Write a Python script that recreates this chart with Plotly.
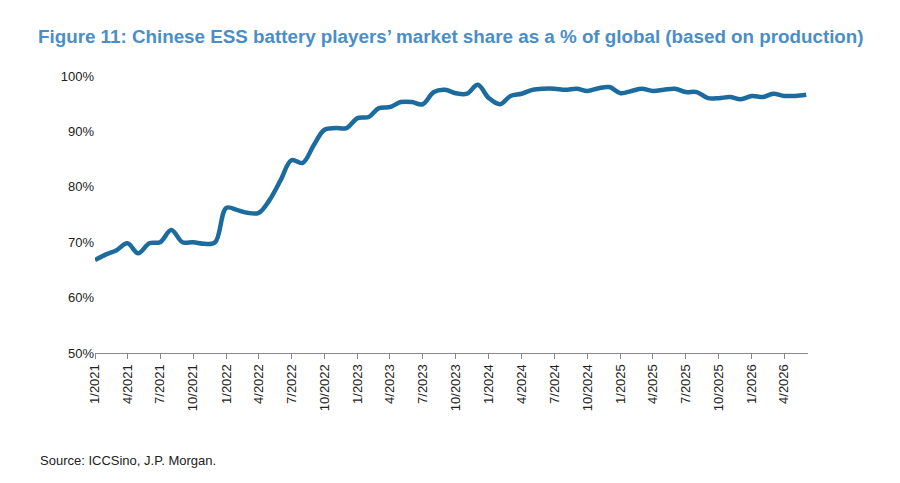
import plotly.graph_objects as go
import pandas as pd

months = pd.date_range("2021-01-01", periods=66, freq="MS")
share = [66.8,67.8,68.5,69.8,68.0,69.8,70.0,72.2,70.0,70.0,69.7,70.0,
         76.2,75.8,75.3,75.3,77.6,81.2,84.8,84.3,87.5,90.3,90.6,90.6,
         92.4,92.6,94.2,94.4,95.3,95.3,94.9,97.1,97.5,96.9,96.8,98.4,
         96.0,94.9,96.4,96.8,97.5,97.7,97.7,97.5,97.7,97.3,97.8,98.0,
         96.9,97.3,97.7,97.3,97.5,97.7,97.1,97.1,96.0,96.0,96.2,95.8,
         96.4,96.2,96.8,96.4,96.4,96.6]
tick_vals = pd.date_range("2021-01-01", "2026-04-01", freq="3MS")
tick_text = [f"{d.month}/{d.year}" for d in tick_vals]

fig = go.Figure(go.Scatter(x=months, y=share, mode="lines",
                           line=dict(color="#1c6b9e", width=4.5, shape="spline")))
fig.update_layout(
    width=900, height=483, plot_bgcolor="white", paper_bgcolor="white",
    margin=dict(l=87, r=100, t=68, b=138, autoexpand=False), showlegend=False,
    font=dict(family="Arial, Liberation Sans", size=13, color="#222"),
    title=dict(text="<b>Figure 11: Chinese ESS battery players’ market share as a % of global (based on production)</b>",
               x=30/900, xanchor="left", y=1-28/483, yanchor="middle", font=dict(size=18.8, color="#4a8ec8")),
    annotations=[dict(text="Source: ICCSino, J.P. Morgan.", xref="paper", yref="paper",
                      x=-57/713, y=-(460-353)/277, xanchor="left", yanchor="middle",
                      showarrow=False, font=dict(size=13))],
)
fig.update_xaxes(range=[months[0], months[-1] + pd.Timedelta(days=5)], tickvals=tick_vals, ticktext=tick_text,
                 tickangle=-90, showline=True, linecolor="#888", ticks="outside", ticklen=5,
                 tickcolor="#888", showgrid=False)
fig.update_yaxes(range=[50, 100], dtick=10, ticksuffix="%", showgrid=False, showline=False)
fig.write_html("out.html")
